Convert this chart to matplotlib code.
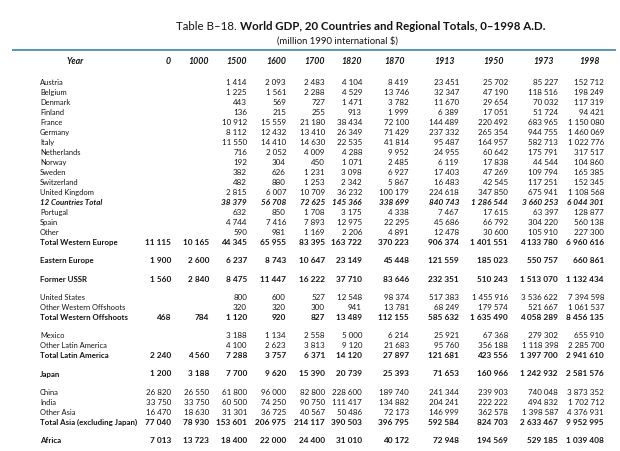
import matplotlib
matplotlib.use("Agg")
import matplotlib.pyplot as plt

FAM = ['Lato', 'DejaVu Sans']

years = ["0", "1000", "1500", "1600", "1700", "1820", "1870", "1913", "1950", "1973", "1998"]

N = None
group_we = [
    ("Austria", "n", [N, N, 1414, 2093, 2483, 4104, 8419, 23451, 25702, 85227, 152712]),
    ("Belgium", "n", [N, N, 1225, 1561, 2288, 4529, 13746, 32347, 47190, 118516, 198249]),
    ("Denmark", "n", [N, N, 443, 569, 727, 1471, 3782, 11670, 29654, 70032, 117319]),
    ("Finland", "n", [N, N, 136, 215, 255, 913, 1999, 6389, 17051, 51724, 94421]),
    ("France", "n", [N, N, 10912, 15559, 21180, 38434, 72100, 144489, 220492, 683965, 1150080]),
    ("Germany", "n", [N, N, 8112, 12432, 13410, 26349, 71429, 237332, 265354, 944755, 1460069]),
    ("Italy", "n", [N, N, 11550, 14410, 14630, 22535, 41814, 95487, 164957, 582713, 1022776]),
    ("Netherlands", "n", [N, N, 716, 2052, 4009, 4288, 9952, 24955, 60642, 175791, 317517]),
    ("Norway", "n", [N, N, 192, 304, 450, 1071, 2485, 6119, 17838, 44544, 104860]),
    ("Sweden", "n", [N, N, 382, 626, 1231, 3098, 6927, 17403, 47269, 109794, 165385]),
    ("Switzerland", "n", [N, N, 482, 880, 1253, 2342, 5867, 16483, 42545, 117251, 152345]),
    ("United Kingdom", "n", [N, N, 2815, 6007, 10709, 36232, 100179, 224618, 347850, 675941, 1108568]),
    ("12 Countries Total", "bi", [N, N, 38379, 56708, 72625, 145366, 338699, 840743, 1286544, 3660253, 6044301]),
    ("Portugal", "n", [N, N, 632, 850, 1708, 3175, 4338, 7467, 17615, 63397, 128877]),
    ("Spain", "n", [N, N, 4744, 7416, 7893, 12975, 22295, 45686, 66792, 304220, 560138]),
    ("Other", "n", [N, N, 590, 981, 1169, 2206, 4891, 12478, 30600, 105910, 227300]),
    ("Total Western Europe", "b", [11115, 10165, 44345, 65955, 83395, 163722, 370223, 906374, 1401551, 4133780, 6960616]),
]
group_ee = [
    ("Eastern Europe", "b", [1900, 2600, 6237, 8743, 10647, 23149, 45448, 121559, 185023, 550757, 660861]),
]
group_ussr = [
    ("Former USSR", "b", [1560, 2840, 8475, 11447, 16222, 37710, 83646, 232351, 510243, 1513070, 1132434]),
]
group_wo = [
    ("United States", "n", [N, N, 800, 600, 527, 12548, 98374, 517383, 1455916, 3536622, 7394598]),
    ("Other Western Offshoots", "n", [N, N, 320, 320, 300, 941, 13781, 68249, 179574, 521667, 1061537]),
    ("Total Western Offshoots", "b", [468, 784, 1120, 920, 827, 13489, 112155, 585632, 1635490, 4058289, 8456135]),
]
group_la = [
    ("Mexico", "n", [N, N, 3188, 1134, 2558, 5000, 6214, 25921, 67368, 279302, 655910]),
    ("Other Latin America", "n", [N, N, 4100, 2623, 3813, 9120, 21683, 95760, 356188, 1118398, 2285700]),
    ("Total Latin America", "b", [2240, 4560, 7288, 3757, 6371, 14120, 27897, 121681, 423556, 1397700, 2941610]),
]
group_jp = [
    ("Japan", "b", [1200, 3188, 7700, 9620, 15390, 20739, 25393, 71653, 160966, 1242932, 2581576]),
]
group_asia = [
    ("China", "n", [26820, 26550, 61800, 96000, 82800, 228600, 189740, 241344, 239903, 740048, 3873352]),
    ("India", "n", [33750, 33750, 60500, 74250, 90750, 111417, 134882, 204241, 222222, 494832, 1702712]),
    ("Other Asia", "n", [16470, 18630, 31301, 36725, 40567, 50486, 72173, 146999, 362578, 1398587, 4376931]),
    ("Total Asia (excluding Japan)", "b", [77040, 78930, 153601, 206975, 214117, 390503, 396795, 592584, 824703, 2633467, 9952995]),
]
group_af = [
    ("Africa", "b", [7013, 13723, 18400, 22000, 24400, 31010, 40172, 72948, 194569, 529185, 1039408]),
]
groups = [group_we, group_ee, group_ussr, group_wo, group_la, group_jp, group_asia, group_af]

# layout (pixel space)
col_right = [171, 209, 247, 286, 325, 362, 409, 459, 508, 558, 604]
label_x = 40
y0 = 82.5
step = 10.0
gap = 18.3
ink = "#141414"
SEP = "\u2005"

def fmt(v):
    if v is None:
        return ""
    return f"{v:,}".replace(",", SEP)

def style(st):
    if st == "b":
        return dict(fontweight="bold", fontstyle="normal")
    if st == "bi":
        return dict(fontweight="bold", fontstyle="italic")
    return dict(fontweight="normal", fontstyle="normal")

fig = plt.figure(figsize=(6.2, 4.52), dpi=100)
ax = fig.add_axes([0, 0, 1, 1])
ax.set_xlim(0, 620)
ax.set_ylim(452, 0)
ax.axis("off")
renderer = fig.canvas.get_renderer()

def fit_size(s, target_px, **kw):
    t = ax.text(0, 0, s, family=FAM, fontsize=10, **kw)
    w = t.get_window_extent(renderer).width
    t.remove()
    return 10 * target_px / w

fs_lab_n = fit_size("Other Western Offshoots", 86, **style("n"))
fs_lab_b = fit_size("Total Asia (excluding Japan)", 97, **style("b"))
fs_num_n = fit_size(fmt(1455916), 37, **style("n"))
fs_num_b = fit_size(fmt(1635490), 38, **style("b"))

def sizes(st):
    if st == "n":
        return fs_lab_n, fs_num_n
    return fs_lab_b, fs_num_b

# title
t1 = ax.text(176, 27, "Table B\u201318. ", family=FAM, fontsize=8.3, color=ink,
             ha="left", va="center")
ax.annotate("World GDP, 20 Countries and Regional Totals, 0\u20131998 A.D.",
            xy=(1, 0), xycoords=t1, va="bottom", ha="left",
            family=FAM, fontsize=8.3, fontweight="bold", color=ink)
ax.text(337, 41, "(million 1990 international $)", family=FAM, fontsize=6.8,
        color=ink, ha="center", va="center")

# top rule
ax.plot([12, 616], [50.5, 50.5], color="#4a8fae", lw=1.3, solid_capstyle="butt")

# header
hy = 62
hfs = fs_num_b + 0.3
ax.text(75, hy, "Year", family=FAM, fontsize=hfs, fontweight="bold",
        fontstyle="italic", color=ink, ha="center", va="center")
for yr, xr in zip(years, col_right):
    ax.text(xr - (0 if xr < 400 else 4), hy, yr, family=FAM, fontsize=hfs,
            fontweight="bold", fontstyle="italic", color=ink, ha="right", va="center")

y = y0
for gi, grp in enumerate(groups):
    if gi > 0:
        y += gap
    for ri, (label, st, vals) in enumerate(grp):
        if ri > 0:
            y += step
        kw = style(st)
        fl, fn = sizes(st)
        ax.text(label_x, y, label, family=FAM, fontsize=fl, color=ink,
                ha="left", va="center", **kw)
        for v, xr in zip(vals, col_right):
            if v is None:
                continue
            ax.text(xr, y, fmt(v), family=FAM, fontsize=fn, color=ink,
                    ha="right", va="center", **kw)

fig.savefig("out.png", dpi=100, facecolor="white")
